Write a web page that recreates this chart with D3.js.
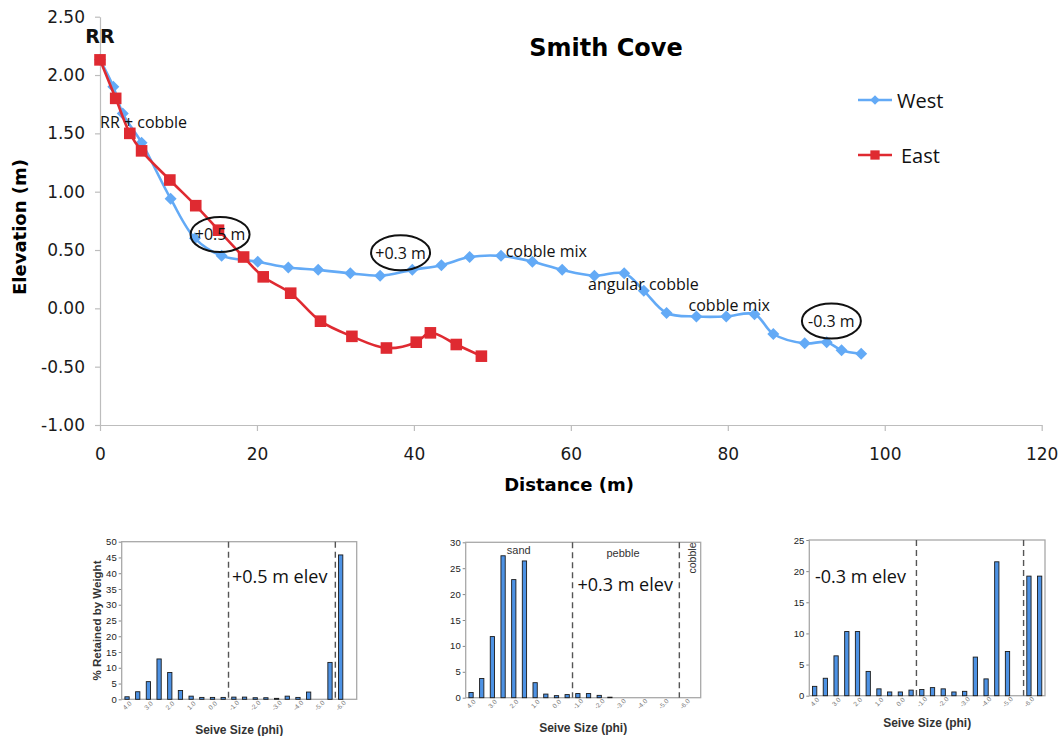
<!DOCTYPE html>
<html><head><meta charset="utf-8">
<script src="https://cdn.jsdelivr.net/npm/d3@7"></script>
<style>body{margin:0;background:#fff;} svg{display:block;}</style>
</head><body>
<svg id="c" width="1063" height="736"></svg>
<script>
// ---------- Main profile data ----------
const westDistance  = [0, 1.7, 2.9, 5.3, 9.0, 12.1, 15.5, 20.1, 24.0, 27.8, 31.9, 35.7, 39.8, 43.5, 47.1, 51.1, 55.1, 58.9, 63.0, 66.8, 69.3, 72.2, 76.0, 79.8, 83.4, 85.8, 89.8, 92.6, 94.5, 97.0];
const westElevation = [2.13, 1.90, 1.67, 1.42, 0.94, 0.60, 0.45, 0.40, 0.35, 0.33, 0.30, 0.28, 0.33, 0.37, 0.44, 0.45, 0.40, 0.33, 0.28, 0.30, 0.15, -0.04, -0.07, -0.07, -0.05, -0.22, -0.30, -0.29, -0.36, -0.39];
const eastDistance  = [0, 2.0, 3.8, 5.3, 8.9, 12.2, 15.1, 18.3, 20.8, 24.3, 28.1, 32.1, 36.5, 40.3, 42.1, 45.4, 48.6];
const eastElevation = [2.13, 1.80, 1.50, 1.35, 1.10, 0.88, 0.67, 0.44, 0.27, 0.13, -0.11, -0.24, -0.34, -0.29, -0.21, -0.31, -0.41];
const seriesNames = ["West", "East"];
const xTickValues = [0, 20, 40, 60, 80, 100, 120];
const yTickValues = [-1, -0.5, 0, 0.5, 1, 1.5, 2, 2.5];

// ---------- Sieve data ----------
const phiBins = ["4.0","3.5","3.0","2.5","2.0","1.5","1.0","0.5","0.0","-0.5","-1.0","-1.5","-2.0","-2.5","-3.0","-3.5","-4.0","-4.5","-5.0","-5.5","-6.0","-6.5"];
const retainedPlus05  = [0.8, 2.4, 5.6, 12.8, 8.5, 2.8, 1.0, 0.6, 0.6, 0.6, 0.7, 0.7, 0.5, 0.5, 0.3, 1.0, 0.6, 2.3, 0, 11.7, 45.8, 0];
const retainedPlus03  = [1.0, 3.7, 11.8, 27.4, 22.8, 26.4, 2.9, 0.7, 0.4, 0.6, 0.8, 0.8, 0.45, 0.1, 0, 0, 0, 0, 0, 0, 0, 0];
const retainedMinus03 = [1.5, 2.8, 6.4, 10.3, 10.3, 3.9, 1.1, 0.6, 0.6, 0.9, 1.0, 1.3, 1.1, 0.6, 0.7, 6.2, 2.7, 21.5, 7.1, 0, 19.2, 19.2];

const BLUE = "#63aaf6", RED = "#df2a31";
const svg = d3.select("#c");

// ---------- Main chart ----------
const x = d3.scaleLinear().domain([0, 120]).range([100, 1041.7]);
const y = d3.scaleLinear().domain([-1, 2.5]).range([425, 16.7]);

const gy = svg.append("g").attr("transform", "translate(100,0)")
  .call(d3.axisLeft(y).tickValues(yTickValues).tickFormat(d => d.toFixed(2)).tickSize(5).tickSizeOuter(0).tickPadding(10));
const gx = svg.append("g").attr("transform", "translate(0,425)")
  .call(d3.axisBottom(x).tickValues(xTickValues).tickSize(6).tickSizeOuter(0).tickPadding(17));
[gx, gy].forEach(g => {
  g.select(".domain").attr("stroke", "#bdbdbd").attr("stroke-width", 1.2);
  g.selectAll(".tick line").attr("stroke", "#bdbdbd").attr("stroke-width", 1.2);
  g.selectAll("text").attr("font-family", "DejaVu Sans").attr("font-size", 17).attr("fill", "#1a1a1a");
});

svg.append("text").attr("x", 606).attr("y", 56).attr("text-anchor", "middle")
  .attr("font-family", "DejaVu Sans").attr("font-weight", "bold").attr("font-size", 24).text("Smith Cove");
svg.append("text").attr("transform", "translate(19,227) rotate(-90)").attr("text-anchor", "middle")
  .attr("dominant-baseline", "central").attr("font-family", "DejaVu Sans").attr("font-weight", "bold")
  .attr("font-size", 18).text("Elevation (m)");
svg.append("text").attr("x", 569).attr("y", 484).attr("text-anchor", "middle").attr("dominant-baseline", "central")
  .attr("font-family", "DejaVu Sans").attr("font-weight", "bold").attr("font-size", 18).text("Distance (m)");

const westPts = westDistance.map((d, i) => [d, westElevation[i]]);
const eastPts = eastDistance.map((d, i) => [d, eastElevation[i]]);
const line = d3.line().x(d => x(d[0])).y(d => y(d[1])).curve(d3.curveCatmullRom.alpha(0.5));
const diamond = "M0,-6L6,0L0,6L-6,0Z";
const square = "M-5.8,-5.8H5.8V5.8H-5.8Z";

svg.append("path").attr("d", line(westPts)).attr("fill", "none").attr("stroke", BLUE).attr("stroke-width", 2.6);
svg.append("g").selectAll("path").data(westPts).join("path")
  .attr("transform", d => `translate(${x(d[0])},${y(d[1])})`).attr("d", diamond).attr("fill", BLUE);
svg.append("path").attr("d", line(eastPts)).attr("fill", "none").attr("stroke", RED).attr("stroke-width", 2.6);
svg.append("g").selectAll("path").data(eastPts).join("path")
  .attr("transform", d => `translate(${x(d[0])},${y(d[1])})`).attr("d", square).attr("fill", RED);

// legend
[[seriesNames[0], BLUE, diamond, 100, 897], [seriesNames[1], RED, square, 155, 901]].forEach(([name, col, sym, ly, tx]) => {
  svg.append("line").attr("x1", 858).attr("x2", 892).attr("y1", ly).attr("y2", ly).attr("stroke", col).attr("stroke-width", 2.6);
  svg.append("path").attr("transform", `translate(875,${ly}) scale(0.8)`).attr("d", sym).attr("fill", col);
  svg.append("text").attr("x", tx).attr("y", ly).attr("dominant-baseline", "central")
    .attr("font-family", "Open Sans").attr("font-size", 20).attr("fill", "#111").text(name);
});

// annotations
const ann = (t, dx, dy, opts = {}) => svg.append("text").attr("x", x(dx)).attr("y", y(dy))
  .attr("font-family", opts.font || "Open Sans").attr("font-weight", opts.bold ? "bold" : "normal")
  .attr("font-size", opts.size || 16).attr("text-anchor", opts.anchor || "start").attr("fill", "#111").text(t);
ann("RR", 0, 2.275, {bold: true, size: 19, anchor: "middle", font: "DejaVu Sans"});
ann("RR + cobble", 0, 1.545);
ann("cobble mix", 51.7, 0.44);
ann("angular cobble", 62.2, 0.157);
ann("cobble mix", 75.0, -0.023);
[["+0.5 m", 15.3, 0.633], ["+0.3 m", 38.3, 0.477], ["-0.3 m", 93.2, -0.109]].forEach(([t, cx, cy]) => {
  svg.append("ellipse").attr("cx", x(cx)).attr("cy", y(cy)).attr("rx", 29.5).attr("ry", 17.5)
    .attr("fill", "none").attr("stroke", "#111").attr("stroke-width", 2);
  svg.append("text").attr("x", x(cx)).attr("y", y(cy)).attr("text-anchor", "middle").attr("dominant-baseline", "central")
    .attr("font-family", "Open Sans").attr("font-size", 16).attr("fill", "#111").text(t);
});

// ---------- Sieve bar charts ----------
function barChart(values, box, yMax, label, lx, ly, titleY, yTitle) {
  const xb = d3.scaleBand().domain(phiBins).range([box.left, box.right]).paddingInner(0.6).paddingOuter(0.3);
  const yb = d3.scaleLinear().domain([0, yMax]).range([box.bottom, box.top]);
  const g = svg.append("g");
  const ay = g.append("g").attr("transform", `translate(${box.left},0)`)
    .call(d3.axisLeft(yb).tickValues(d3.range(0, yMax + 1, 5)).tickSize(3).tickSizeOuter(0).tickPadding(2));
  ay.select(".domain").remove();
  ay.selectAll(".tick line").attr("stroke", "#888");
  ay.selectAll("text").attr("font-family", "Liberation Sans").attr("font-size", 9.5).attr("fill", "#222");
  g.append("rect").attr("x", box.left).attr("y", box.top).attr("width", box.right - box.left)
    .attr("height", box.bottom - box.top).attr("fill", "none").attr("stroke", "#a8a8a8").attr("stroke-width", 1.3);
  const bw = xb.bandwidth();
  g.selectAll("rect.bar").data(phiBins.map((b, i) => ({b, v: values[i]})).filter(d => d.v > 0)).join("rect")
    .attr("class", "bar").attr("x", d => xb(d.b)).attr("y", d => yb(d.v)).attr("width", bw)
    .attr("height", d => yb(0) - yb(d.v)).attr("fill", "#4d92e4").attr("stroke", "#1b1b1b").attr("stroke-width", 0.9);
  const gap = (xb.step() - bw) / 2;
  ["-1.0", "-6.0"].forEach(b => {
    const xx = xb(b) - gap;
    g.append("line").attr("x1", xx).attr("x2", xx).attr("y1", box.top).attr("y2", box.bottom)
      .attr("stroke", "#555").attr("stroke-width", 1.4).attr("stroke-dasharray", "6,4");
  });
  phiBins.forEach((b, i) => {
    if (i % 2 === 0 && i < 21) {
      const cx = xb(b) + bw / 2;
      g.append("text").attr("transform", `translate(${cx},${box.bottom + 6}) rotate(-45)`)
        .attr("text-anchor", "middle").attr("dominant-baseline", "central")
        .attr("font-family", "Liberation Sans").attr("font-size", 6.5).attr("fill", "#777").text(b);
    }
  });
  g.append("text").attr("x", (box.left + box.right) / 2).attr("y", titleY).attr("text-anchor", "middle")
    .attr("dominant-baseline", "central").attr("font-family", "Liberation Sans").attr("font-weight", "bold")
    .attr("font-size", 12).attr("fill", "#333").text("Seive Size (phi)");
  g.append("text").attr("x", lx).attr("y", ly).attr("font-family", "Open Sans").attr("font-size", 18)
    .attr("fill", "#111").text(label);
  if (yTitle) {
    g.append("text").attr("transform", `translate(${box.left - 25},${(box.top + box.bottom) / 2}) rotate(-90)`)
      .attr("text-anchor", "middle").attr("dominant-baseline", "central").attr("font-family", "Liberation Sans")
      .attr("font-weight", "bold").attr("font-size", 11.5).attr("fill", "#333").text(yTitle);
  }
  return {xb, yb};
}

barChart(retainedPlus05, {left: 121.7, right: 356.7, top: 541.7, bottom: 699.3}, 50, "+0.5 m elev", 232, 583, 730, "% Retained by Weight");
barChart(retainedPlus03, {left: 465.7, right: 700.7, top: 542.3, bottom: 697.7}, 30, "+0.3 m elev", 577.5, 591, 728);
barChart(retainedMinus03, {left: 809.3, right: 1045, top: 540, bottom: 695.7}, 25, "-0.3 m elev", 815, 583, 723);

const t = (txt, tx, ty, anchor) => svg.append("text").attr("x", tx).attr("y", ty).attr("text-anchor", anchor)
  .attr("font-family", "Liberation Sans").attr("font-size", 11).attr("fill", "#333").text(txt);
t("sand", 518.7, 554, "middle");
t("pebble", 623, 556.5, "middle");
svg.append("text").attr("transform", "translate(692,558) rotate(-90)").attr("text-anchor", "middle")
  .attr("dominant-baseline", "central").attr("font-family", "Liberation Sans").attr("font-size", 10.5)
  .attr("fill", "#333").text("cobble");
</script>
</body></html>
